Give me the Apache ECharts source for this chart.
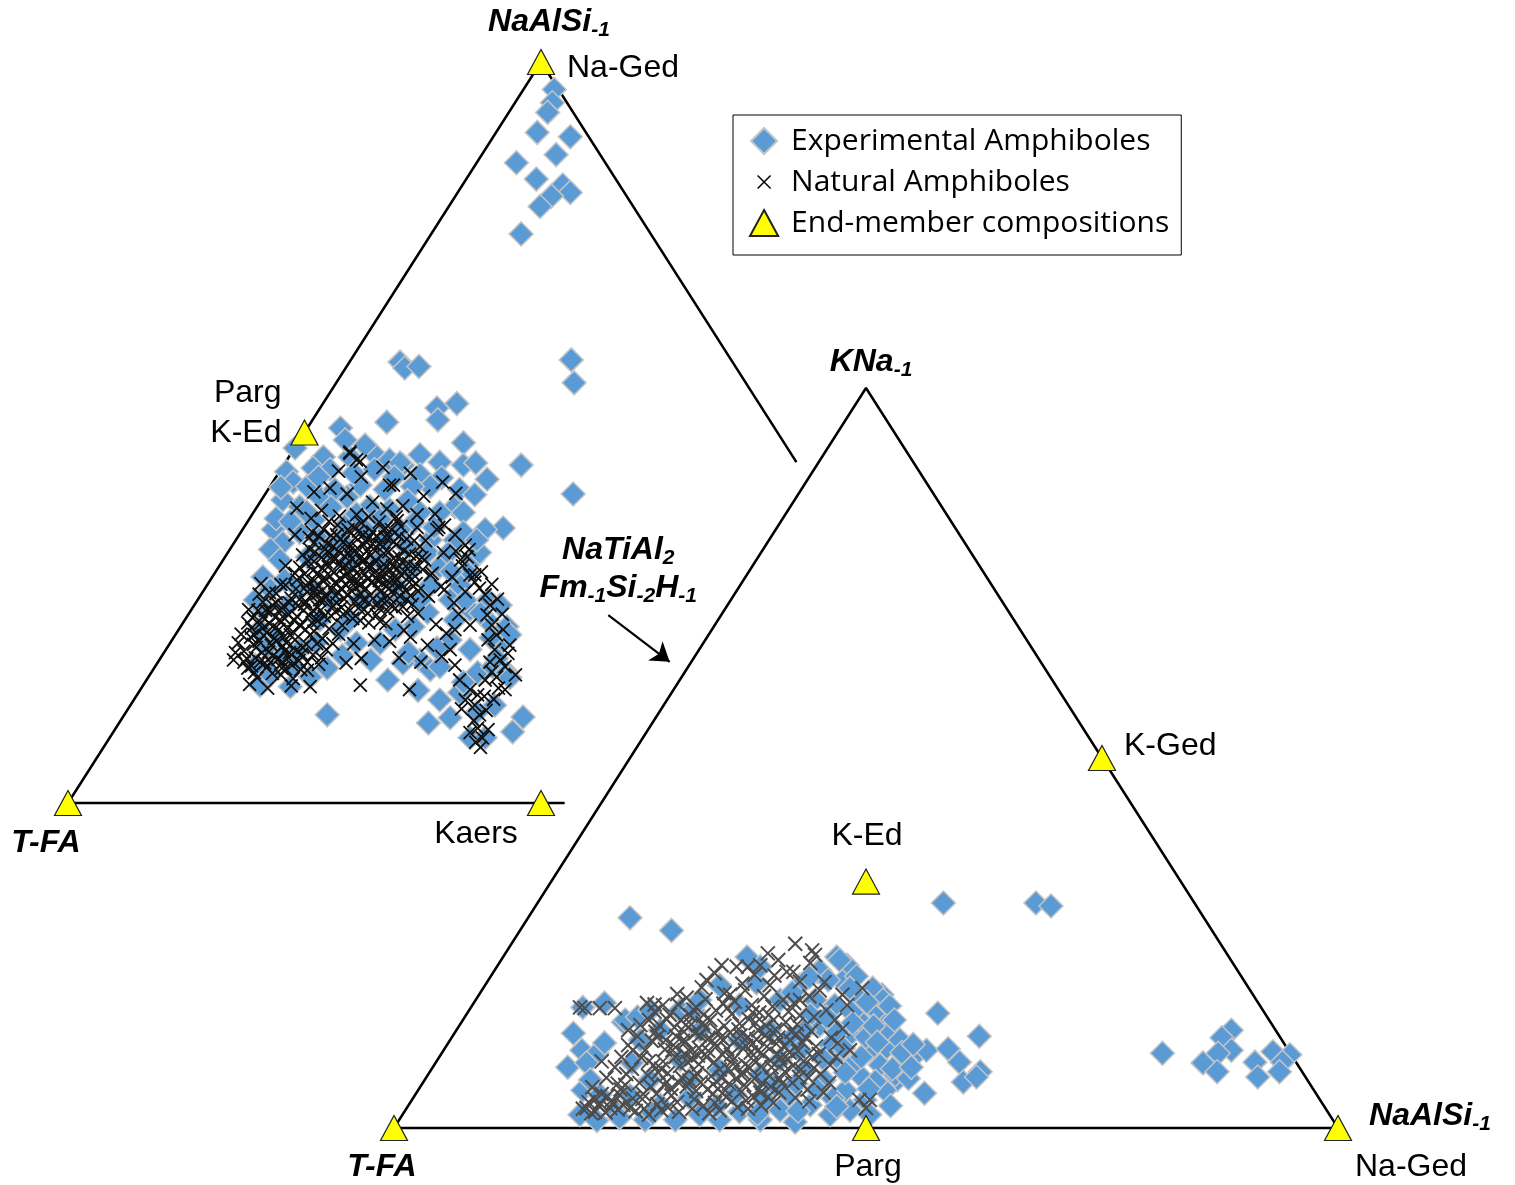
<!DOCTYPE html>
<html>
<head>
<meta charset="utf-8">
<title>Amphibole ternary diagrams</title>
<script src="https://cdn.jsdelivr.net/npm/echarts@6/dist/echarts.min.js"></script>
<style>
  html, body { margin: 0; padding: 0; background: #fff; }
  #chart { width: 1515px; height: 1185px; }
</style>
</head>
<body>
<div id="chart"></div>
<script>
// all positions are [x, y] in % of the triangle base (x) and height (y)

// left diagram: T-FA / NaAlSi-1 / (hidden third corner)
var leftVertices = [[0, 0], [50, 100]];
var leftVertexNames = ['T-FA', 'NaAlSi_{-1}'];
var leftEndMembers = [[0, 0], [50, 100], [25, 50], [50, 0]];
var leftEndMemberNames = ['', 'Na-Ged', 'Parg\nK-Ed', 'Kaers'];
// right side of the left triangle is covered by the second diagram
var leftFrame = [[0, 0], [50, 100], [77, 46]];
var leftBase = [[0, 0], [52.5, 0]];

// right diagram: T-FA / KNa-1 / NaAlSi-1
var rightVertices = [[0, 0], [50, 100], [100, 0]];
var rightVertexNames = ['T-FA', 'KNa_{-1}', 'NaAlSi_{-1}'];
var rightEndMembers = [[0, 0], [50, 0], [100, 0], [75, 50], [50, 33.3]];
var rightEndMemberNames = ['', 'Parg', 'Na-Ged', 'K-Ged', 'K-Ed'];
var rightFrame = [[0, 0], [50, 100], [100, 0], [0, 0]];

// exchange vector arrow (in right diagram units)
var exchangeArrow = [[22.7, 69.3], [29.2, 63.0]];
var exchangeName = 'NaTiAl_{2}\nFm_{-1}Si_{-2}H_{-1}';

var leftExperimental = [
  [51.4,96.3],[51.2,94.5],[50.7,93.2],[49.6,90.5],[53.1,89.9],[51.6,87.5],[47.4,86.4],[49.5,84.2],[52.3,83.4],[53.1,82.4],[51.1,81.9],[49.9,80.5],[47.9,76.8],
  [53.2,59.8],[53.5,56.7],[47.9,45.6],[53.4,41.7],[35.1,59.5],[35.6,58.7],[37.1,58.9],[39.0,53.3],[41.1,53.9],[39.1,51.7],[33.7,51.4],[41.8,48.6],[41.8,45.6],[43.1,45.9],[44.3,43.7],[46.0,37.1],[28.8,50.6],
  [24.0,47.9],[27.0,46.7],[25.9,45.2],[29.8,46.7],[32.2,47.3],[34.0,46.3],[35.4,45.6],[37.2,47.0],[39.3,46.0],[29.3,49.0],[31.4,48.3],[27.7,45.0],[32.4,45.0],[37.2,44.3],
  [23.1,44.7],[23.8,43.3],[25.3,42.7],[22.7,40.9],[24.5,40.0],[26.6,41.3],[29.5,41.3],[31.9,40.0],[34.0,39.6],[35.1,45.9],[39.5,43.9],[38.3,42.7],[36.4,42.7],[40.9,40.0],[41.8,39.2],[39.3,39.2],[37.2,39.2],[36.5,37.8],[28.2,42.3],[30.9,42.9],[33.5,42.3],[41.4,42.3],[43.0,41.6],
  [21.7,36.9],[22.7,35.1],[24.5,36.5],[26.3,35.9],[21.4,34.2],[22.4,32.8],[25.3,33.2],[27.4,34.2],[29.3,37.5],[31.4,36.9],[33.5,35.5],[35.1,36.9],[38.3,35.5],[42.8,32.8],[43.5,33.8],[42.2,31.1],[39.3,31.9],[38.0,33.8],[35.8,34.6],[40.9,35.5],[44.1,36.9],[29.8,32.8],[33.0,32.8],
  [20.6,30.5],[21.4,28.8],[23.1,26.5],[20.6,26.1],[44.4,27.4],[46.4,23.8],[45.7,21.7],[44.3,24.7],[38.0,25.7],[36.5,23.8],[35.1,27.8],[40.4,27.4],[42.5,26.1],[20.3,23.4],[24.5,28.8],[26.6,24.7],[33.0,27.4],[38.3,29.4],[41.4,29.4],[45.7,26.7],[46.7,22.7],[19.8,27.4],
  [40.4,22.0],[37.2,19.3],[38.3,18.0],[39.3,18.4],[43.3,17.6],[41.4,14.9],[44.9,18.4],[46.4,17.6],[46.7,16.9],[30.5,21.6],[33.0,21.6],[35.4,18.9],[27.4,18.2],[25.6,17.0],[20.3,15.9],[23.5,15.7],[19.8,18.6],[22.4,20.0],[28.8,23.4],[34.6,23.4],[42.5,20.7],[33.8,16.6],[21.4,17.3],
  [27.4,11.9],[38.1,10.8],[40.4,11.5],[42.5,8.8],[44.1,8.8],[47.0,9.6],[48.1,11.6],[43.2,12.2],[45.1,13.2],[39.3,13.9],
  [26.0,38.2],[28.8,35.5],[30.9,27.4],[27.7,27.4],[24.5,20.7],[37.2,27.4],[40.9,24.7],[36.1,31.5],[34.6,29.4],[22.9,30.1],[29.8,24.7],[26.0,28.8],
  [22.0,38.4],[23.5,38.0],[25.2,39.3],[27.8,39.9],[30.5,39.0],[33.0,38.3],[35.9,40.8],[38.7,37.2],[40.2,33.7],[41.8,36.5],[43.2,35.5],[42.0,27.4],[43.6,25.6],[44.7,22.3],[39.0,20.9],
  [36.0,20.3],[32.0,19.3],[29.0,19.9],[26.2,21.6],[22.0,22.3],[21.0,21.0],[23.8,18.3],[26.5,44.0],[30.2,44.5],[34.5,44.0],[22.5,42.6],[40.5,31.2],[45.3,19.5],[41.8,16.3],[37.0,15.2]
];

var leftNatural = [
  // main dense core
  [24.2,30.1],[24.8,33.5],[25.1,27.2],[25.5,35.8],[25.9,31.4],[26.2,29.0],[26.4,24.6],[26.8,33.1],[27.0,36.9],[27.3,27.8],[27.5,31.9],[27.8,25.3],[28.0,34.6],[28.2,29.7],[28.5,37.5],[28.7,32.3],[28.9,26.4],[29.1,35.2],[29.3,30.6],[29.5,28.1],
  [29.6,33.8],[29.9,36.4],[30.1,24.9],[30.2,31.7],[30.4,27.2],[30.6,34.4],[30.8,29.4],[31.0,37.8],[31.1,32.6],[31.3,26.1],[31.5,35.3],[31.7,30.2],[31.9,28.0],[32.0,33.4],[32.2,36.6],[32.4,31.1],[32.6,25.4],[32.8,29.1],[33.0,34.9],[33.2,27.3],
  [33.4,32.2],[33.6,37.1],[33.8,30.0],[34.0,35.8],[34.2,28.5],[34.4,33.0],[34.6,26.3],[34.8,31.6],[35.0,36.0],[35.3,29.5],[35.5,34.1],[35.8,27.4],[36.0,32.3],[36.3,30.1],[36.6,35.4],[37.0,28.6],[25.3,28.5],[26.0,32.6],[27.1,30.4],[28.4,27.0],
  [29.7,31.2],[30.9,33.1],[32.1,29.8],[33.3,31.3],[34.5,30.4],[28.8,35.6],[31.6,34.0],[30.0,28.6],[27.9,32.8],[33.9,33.9],[26.7,26.0],[29.0,24.0],[31.8,24.3],[35.9,25.2],[37.5,31.5],[24.0,36.2],[25.7,38.4],[30.5,38.9],[34.7,38.6],[36.9,37.2],
  [25.0,30.9],[25.6,34.2],[26.3,28.2],[26.9,31.7],[27.4,35.0],[27.9,28.9],[28.3,33.0],[28.8,30.3],[29.2,27.5],[29.6,36.9],[30.0,33.0],[30.3,30.0],[30.7,26.3],[31.2,36.2],[31.5,28.9],[31.9,32.1],[32.3,34.3],[32.7,27.0],[33.1,30.6],[33.5,35.9],
  [33.9,28.9],[34.3,32.0],[34.7,34.9],[35.1,27.9],[35.6,31.2],[36.1,33.6],[36.5,29.3],[27.2,34.3],[28.1,31.1],[29.4,29.4],[30.6,32.1],[31.4,30.9],[32.5,32.7],[33.7,29.3],[29.9,34.7],[31.2,27.4],[28.6,28.4],[26.5,36.0],[27.6,38.0],[32.9,37.9],
  [35.2,37.3],[26.0,30.0],[34.1,26.7],[30.4,35.8],[28.3,25.8],
  [24.5,31.8],[25.2,29.3],[25.8,36.6],[26.1,33.9],[26.6,27.4],[27.0,29.9],[27.6,33.7],[28.0,26.6],[28.4,36.2],[28.9,29.0],[29.3,33.2],[29.8,26.0],[30.2,37.2],[30.5,31.0],[30.9,28.3],[31.3,34.8],[31.7,25.6],[32.1,31.9],[32.6,36.0],[33.0,28.5],
  [33.4,33.7],[33.8,25.9],[34.2,36.9],[34.6,29.8],[35.0,33.2],[35.4,26.5],[35.8,35.6],[36.2,28.0],[36.7,31.9],[37.2,34.6],[26.4,31.0],[27.7,30.6],[29.0,31.7],[30.2,29.4],[31.6,31.9],[32.9,30.0],[34.1,31.4],[35.2,30.8],[29.5,34.6],[31.9,35.9],
  [33.4,36.9],[28.7,38.7],[27.1,25.2],[30.9,24.6],[33.6,24.2],[36.4,26.8],
  [24.9,26.0],[25.4,32.6],[26.0,35.1],[26.9,28.7],[27.3,32.5],[27.8,36.1],[28.3,28.0],[28.6,34.0],[29.1,25.5],[29.4,32.0],[29.9,30.2],[30.3,34.0],[30.7,36.7],[31.0,29.5],[31.4,32.8],[31.8,27.0],[32.2,35.0],[32.5,30.3],[32.9,26.3],[33.3,34.6],
  [33.6,31.9],[34.0,27.6],[34.4,35.2],[34.9,29.1],[35.3,32.5],[35.7,28.7],[36.4,31.0],[36.8,33.3],
  // lower-left dense patch
  [18.6,20.5],[19.0,18.2],[19.3,22.4],[19.5,25.0],[19.8,19.6],[20.0,16.9],[20.2,21.8],[20.4,24.3],[20.6,27.1],[20.8,18.9],[21.0,23.0],[21.2,20.4],[21.4,25.8],[21.6,17.5],[21.8,22.2],[22.0,28.3],[22.2,19.4],[22.4,24.7],[22.6,21.1],[22.8,26.6],
  [23.0,18.1],[23.2,23.5],[23.4,20.3],[23.6,27.6],[23.8,16.8],[24.0,22.0],[24.2,25.2],[24.4,19.2],[24.6,23.9],[24.8,21.0],[25.0,26.8],[25.3,17.9],[25.6,22.7],[25.9,20.0],[26.2,24.8],[26.5,18.7],[19.4,23.6],[20.9,26.0],[21.7,19.9],[22.5,17.3],
  [23.3,25.5],[24.1,28.9],[17.5,19.3],[18.0,21.6],[19.2,16.0],[21.1,15.5],[23.6,15.8],[25.4,29.7],[26.9,27.5],[20.4,29.6],[17.7,20.3],[18.6,19.0],[19.4,18.5],
  [19.9,21.0],[20.7,22.6],[21.5,21.3],[22.3,23.4],[23.1,21.6],[23.9,24.6],[24.7,20.1],[25.5,25.3],[21.9,25.1],[22.7,19.0],[20.3,19.0],[24.3,26.6],[22.0,27.0],[19.0,24.3],[21.3,28.4],[23.7,18.6],[25.1,23.4],[26.3,21.5],[18.3,22.8],[20.1,26.0],
  [18.9,19.5],[19.6,21.4],[20.5,20.3],[21.3,24.2],[22.1,21.9],[22.9,24.9],[23.5,22.7],[24.5,24.0],[25.2,21.4],[25.9,26.0],[19.7,17.6],[20.6,23.6],[21.6,26.7],[22.6,18.2],[23.4,27.0],[24.6,18.0],[26.0,23.2],[26.8,19.6],[19.1,26.1],[21.0,18.3],
  [22.8,22.4],[24.1,20.6],[20.2,28.2],[23.0,29.4],[25.7,28.0],
  [21.9,23.6],[22.4,26.1],[23.3,19.6],[23.8,23.1],[24.5,27.5],[25.3,19.0],[25.8,24.3],[26.4,26.4],[20.6,25.1],[19.7,22.7],[21.4,19.0],[22.9,20.5],[27.6,23.5],[28.0,21.5],[26.9,22.2],[24.0,31.0],[23.0,32.0],[22.5,29.5],
  // upper spread
  [29.8,47.2],[30.9,46.1],[34.0,42.9],[27.7,42.5],[29.5,41.7],[32.2,40.6],[35.4,40.1],[37.6,41.4],[31.0,44.0],[33.3,45.3],[36.2,44.5],[38.8,39.0],[26.8,39.5],[28.6,44.8],[39.6,43.3],[41.0,41.8],[39.2,37.2],[37.8,35.4],[36.9,38.9],[34.8,38.1],
  [24.2,39.8],[26.0,42.0],[31.8,38.6],[33.7,39.7],[29.8,47.4],[30.5,46.3],[34.4,42.9],
  // middle right
  [37.4,33.1],[38.5,31.0],[39.7,33.8],[40.6,30.5],[41.7,32.0],[42.4,34.2],[38.1,27.9],[39.4,29.2],[40.8,27.0],[37.0,25.6],[38.9,24.1],[36.2,22.4],[38.0,21.3],[39.5,19.8],[37.3,19.0],[40.0,22.9],[41.3,25.5],[42.0,28.5],[43.0,30.8],[36.8,29.6],
  [35.5,23.3],[34.0,21.8],[33.0,24.5],[32.4,22.0],[35.0,19.6],[30.2,21.5],[28.6,22.8],[27.3,20.7],[31.0,19.5],[29.4,18.9],
  // right arc
  [39.0,36.9],[39.8,37.5],[40.9,36.2],[42.0,34.8],[41.5,32.8],[42.5,30.8],[43.0,29.8],[43.5,29.0],[44.1,28.1],[44.6,26.7],[44.3,25.4],[44.8,24.0],[45.3,22.7],[44.4,22.0],[45.1,20.7],[45.7,19.3],[46.2,18.4],[44.8,17.7],[44.1,16.6],[45.5,15.5],
  [46.2,15.3],[43.3,14.6],[42.5,15.3],[43.0,13.2],[43.5,11.9],[43.3,10.1],[43.8,8.8],[43.1,8.2],[42.0,13.9],[41.4,16.6],[40.9,18.6],[40.4,20.7],[40.9,23.4],[46.7,21.3],[47.3,17.3],[42.5,24.0],[37.7,32.8],[38.3,30.8],[39.8,28.8],
  [41.0,34.0],[42.2,33.2],[43.7,31.2],[44.8,29.5],[45.4,27.5],[45.9,25.5],[46.0,23.4],[46.5,20.2],[44.6,19.0],[45.3,17.0],[44.0,14.4],[44.2,12.5],[42.9,11.1],[44.4,9.9],[42.5,9.5],[43.6,7.5],[41.6,12.7],[45.0,14.0],
  // stragglers
  [36.1,15.3],[30.9,15.9],[25.6,15.7]
];

var rightExperimental = [
  [25.0,28.4],[29.4,26.7],[58.2,30.4],[68.0,30.4],[69.6,30.0],[57.6,15.5],[62.0,12.4],[81.4,10.1],[88.7,13.2],[87.7,12.2],[88.7,10.5],[87.3,10.1],[85.7,8.8],[87.2,7.6],[91.2,8.9],[91.5,6.9],[93.1,10.3],[94.9,9.9],[94.1,8.9],[93.8,7.6],
  [55.4,10.1],[56.4,10.5],[58.7,10.7],[59.9,8.9],[60.3,6.2],[62.1,7.6],[61.7,6.9],[56.2,4.7],
  [20.0,16.3],[22.3,16.9],[24.3,14.3],[19.0,12.8],[19.9,10.5],[21.5,10.1],[22.3,11.5],[18.4,8.2],[20.0,5.1],[20.4,8.8],[24.5,14.6],[25.8,15.0],[25.2,8.8],[20.8,6.5],[21.8,4.5],[23.4,2.4],[19.7,1.8],[26.1,11.9],[27.1,6.5],
  [37.4,23.1],[38.4,19.6],[38.8,21.8],[30.3,15.9],[31.7,15.9],[34.5,19.3],[32.4,17.3],
  [46.9,23.1],[48.0,22.0],[44.9,21.1],[47.2,22.7],[45.1,21.3],[51.7,18.0],[50.6,16.3],[51.8,15.5],[51.1,15.9],[52.2,10.9],[52.5,13.2],[53.3,6.5],[49.3,17.7],[50.7,18.9],[51.8,17.3],[49.3,14.6],[48.3,12.6],[50.4,10.5],[51.5,8.5],[49.3,7.2],
  [47.2,9.2],[46.2,11.2],[45.1,13.9],[46.7,16.6],[44.6,17.3],[43.0,19.3],[44.1,15.3],[47.8,5.1],[49.9,3.8],[52.0,5.1],[53.1,7.2],[45.6,6.5],[43.5,7.8],[41.9,4.5],[44.1,3.1],[46.2,1.8],[48.3,2.4],[50.4,1.8],[53.6,11.9],[54.1,9.2],
  [23.9,1.4],[26.6,1.1],[28.2,3.1],[29.8,1.1],[32.4,1.8],[34.5,1.1],[36.6,2.2],[38.8,1.1],[40.9,2.4],[42.5,0.8],[39.3,3.8],[36.1,4.5],[31.3,4.1],
  [32.4,13.2],[36.6,11.9],[39.8,13.2],[40.9,9.2],[38.8,7.2],[34.5,7.8],[30.3,9.2],[28.2,13.2],[41.9,11.9],[43.0,10.5],[40.9,17.3],[36.6,16.6],[40.3,5.8],[43.5,13.2],[31.3,6.5],[27.1,15.9],
  [47.5,19.8],[49.0,20.5],[52.5,16.5],[50.0,12.3],[52.8,8.0],[48.6,8.6],[46.5,4.0],[44.8,5.2],[51.0,6.3],[53.8,10.2],[50.8,13.8],[47.0,13.0],[45.4,9.4],[42.8,2.3],[55.0,11.3],[54.5,6.7],[48.5,15.6],[38.5,1.9],[34.2,3.0],[27.4,2.0],
  [21.5,1.0],[25.0,4.4],
  [46.0,20.0],[48.3,18.9],[50.1,17.0],[53.0,14.6],[51.2,11.6],[49.5,9.6],[47.8,7.5],[46.9,2.9],[52.6,3.0],[54.8,8.2],[45.8,15.0],[48.6,14.2],[42.2,18.3],[44.0,20.4],[47.6,10.8],[50.3,5.3],[42.6,6.0]
];

var rightNatural = [
  // upper fringe
  [42.5,24.9],[44.3,24.0],[44.6,23.4],[39.6,23.6],[40.7,22.7],[34.7,22.0],[36.3,21.8],[37.5,21.8],[38.8,22.0],[33.1,20.0],[34.0,20.9],[41.6,21.1],[42.3,21.1],[44.1,22.3],[45.6,19.7],[49.6,18.9],[48.0,16.6],[47.5,18.0],[37.2,18.6],[39.8,19.3],
  [38.2,20.7],[35.6,18.0],[43.0,17.3],[45.1,18.6],[46.7,14.6],[48.3,10.5],[46.2,8.5],[49.3,3.8],[50.0,2.7],[50.4,3.8],
  // left fringe
  [19.7,16.3],[21.8,16.2],[23.4,16.2],[26.8,16.9],[28.5,16.6],[24.8,13.2],[23.4,8.2],[21.0,5.5],[20.4,2.7],[21.8,3.4],[23.2,3.4],[20.2,16.2],[27.6,15.7],[26.1,13.9],[25.3,10.5],[24.5,5.8],[23.9,4.5],[22.9,2.7],[25.0,2.7],[21.3,2.2],
  // dense core
  [26.2,9.5],[26.9,7.1],[27.3,11.8],[27.8,4.6],[28.1,13.9],[28.5,9.0],[28.9,6.2],[29.2,15.3],[29.6,11.2],[30.0,3.5],[30.3,8.4],[30.7,13.0],[31.0,5.6],[31.4,10.3],[31.7,16.0],[32.1,7.4],[32.4,12.5],[32.8,3.0],[33.1,9.6],[33.5,14.6],
  [33.8,5.9],[34.2,11.1],[34.5,7.9],[34.9,16.8],[35.2,4.2],[35.6,12.9],[35.9,9.2],[36.3,6.5],[36.6,14.1],[37.0,10.7],[37.3,3.7],[37.7,8.1],[38.0,15.6],[38.4,12.0],[38.7,5.3],[39.1,9.9],[39.4,13.8],[39.8,7.0],[40.1,16.4],[40.5,11.4],
  [40.8,4.8],[41.2,8.7],[41.5,14.3],[41.9,10.2],[42.2,6.1],[42.6,12.7],[43.0,15.2],[43.4,9.0],[43.8,5.2],[44.2,13.1],[44.7,11.0],[45.2,7.3],[45.8,15.9],[46.3,12.2],[27.5,8.5],[28.7,10.6],[29.9,12.4],[31.1,8.9],[32.3,10.8],[33.6,7.0],
  [34.8,9.9],[36.0,11.6],[37.2,8.6],[38.5,10.4],[39.7,12.1],[40.9,9.5],[42.0,11.8],[30.5,6.8],[32.0,5.0],[33.2,12.0],[35.0,13.8],[36.8,4.9],[38.2,6.7],[39.9,5.6],[41.4,7.6],[43.1,7.9],[29.4,4.4],[31.8,3.9],[34.0,3.4],[36.4,2.8],
  [38.9,3.0],[25.8,12.4],[27.0,14.6],[30.1,16.7],[33.0,17.4],[36.1,17.1],[39.2,17.8],[42.4,16.9],[24.6,7.3],[25.3,4.0],[26.5,2.6],[28.3,2.4],[44.0,3.6],[45.5,4.8],[46.8,9.6],[47.5,13.4],[35.4,8.0],[37.5,12.3],[32.7,14.2],[30.9,11.7],
  [28.0,7.5],[40.2,14.6],[42.8,10.4],[44.5,8.1],[34.3,5.3],[31.5,14.0],
  [26.6,10.5],[27.2,5.6],[27.7,13.0],[28.3,8.0],[28.8,11.9],[29.3,5.3],[29.8,9.6],[30.4,14.6],[30.8,10.0],[31.3,6.4],[31.9,12.8],[32.3,8.6],[32.8,15.3],[33.3,10.4],[33.8,4.6],[34.3,13.1],[34.7,6.8],[35.3,10.7],[35.8,15.4],[36.2,8.3],
  [36.7,12.5],[37.1,5.8],[37.6,14.7],[38.1,9.1],[38.6,13.2],[39.0,6.1],[39.5,11.0],[40.0,8.2],[40.4,13.3],[40.9,6.6],[41.3,11.1],[41.8,15.7],[42.3,8.4],[42.7,14.0],[43.3,11.5],[43.9,6.8],[44.5,15.0],[45.0,10.0],[29.0,7.4],[30.6,11.8],
  [32.2,9.8],[33.7,11.8],[35.5,6.0],[37.3,11.1],[38.9,8.3],[40.6,10.0],[29.7,13.6],[31.4,15.2],[34.1,15.9],[37.9,16.6],[41.2,17.3],[27.9,3.2],[30.2,2.2],[33.4,2.0],[35.8,3.6],[38.1,4.2],[40.2,3.4],[42.5,4.1],[46.1,6.1],[47.0,11.5],
  [44.0,17.8],[30.0,18.1],[32.6,19.0],[36.9,19.5],[40.3,20.6],[43.0,19.8],[26.0,6.1],[25.2,8.0],[24.1,9.6],[22.5,6.8],[22.0,9.0],[27.6,16.7],[31.0,17.6],[35.0,18.2],[39.7,15.3],[34.9,11.9],[31.9,6.9],[36.7,7.3],[33.2,5.2],[38.0,11.4],
  [27.0,9.0],[27.9,12.3],[28.6,5.8],[29.5,10.5],[30.2,6.1],[30.9,13.9],[31.6,9.4],[32.5,6.2],[33.0,13.5],[33.9,8.9],[34.6,12.2],[35.1,5.1],[35.7,9.9],[36.5,13.3],[37.0,7.4],[37.8,10.2],[38.3,14.2],[38.8,4.8],[39.3,12.5],[39.9,9.1],
  [40.7,12.2],[41.1,6.0],[41.7,9.3],[42.1,13.0],[42.9,6.9],[43.6,12.2],[44.3,9.6],[28.9,14.7],[32.0,16.3],[35.3,16.2],[38.7,15.6],[26.4,4.6],[29.0,2.8],[31.6,2.6],[34.5,2.4],[37.5,2.6],[39.6,4.2],[24.8,11.2],[23.7,6.0],[22.6,4.3],
  [21.2,4.0],[20.6,3.5],
  // bottom-left strip
  [20.0,2.6],[20.9,2.0],[21.7,3.0],[22.4,2.1],[23.0,3.7],[23.7,2.5],[24.3,3.1],[25.6,2.3],[26.3,3.9],[27.0,1.8],[22.0,4.6],[24.0,5.2]
];

var chart = echarts.init(document.getElementById('chart'));

var FONT = 'Liberation Sans';
var crossSymbol = 'path://M0,0L10,10M10,0L0,10';
// legend icons padded so they keep their size inside the icon box
var legendDiamond = 'path://M13,0L26,13L13,26L0,13Z';
var legendCross = 'path://M0,0M26,26M6.5,6.5L19.5,19.5M19.5,6.5L6.5,19.5';
var legendTriangle = 'path://M13,1L26,25L0,25Z';

// 'NaAlSi_{-1}' -> rich text with a lowered small part
function richName(s) {
  return s.split('\n').map(function (line) {
    return '{m|' + line.replace(/_\{([^}]*)\}/g, '}{sub|$1}{m|') + '}';
  }).join('\n');
}

var richStyles = {
  m: { fontFamily: FONT, fontSize: 32, fontWeight: 'bold', fontStyle: 'italic', color: '#000', lineHeight: 38 },
  sub: { fontFamily: FONT, fontSize: 21, fontWeight: 'bold', fontStyle: 'italic', color: '#000', lineHeight: 21, verticalAlign: 'bottom' }
};

var plainLabel = {
  show: true, position: 'inside', color: '#000', fontFamily: FONT, fontSize: 32,
  lineHeight: 40, verticalAlign: 'middle', textBorderWidth: 0
};

// label placement around each marker, in pixels
var leftEndLabelPos = [null, { align: 'left', offset: [26, 6] }, { align: 'right', offset: [-23, -19] }, { align: 'center', offset: [-65, 31] }];
var rightEndLabelPos = [null, { align: 'center', offset: [2, 39] }, { align: 'center', offset: [73, 39] }, { align: 'left', offset: [22, -12] }, { align: 'center', offset: [1, -45] }];
var leftVertexLabelPos = [[-22, 40], [8, -40]];
var rightVertexLabelPos = [[-12, 39], [5, -26], [92, -12]];

function frameSeries(data, gi) {
  return {
    type: 'line', xAxisIndex: gi, yAxisIndex: gi, data: data, symbol: 'none',
    clip: false, silent: true, z: 1, lineStyle: { color: '#000', width: 2.5 }
  };
}

function experimentalSeries(data, gi) {
  return {
    name: 'Experimental Amphiboles', type: 'scatter', xAxisIndex: gi, yAxisIndex: gi,
    data: data, symbol: 'diamond', symbolSize: 24, clip: false, silent: true, z: 2,
    itemStyle: { color: '#5B9BD5', borderColor: '#c4c4c4', borderWidth: 1.5, opacity: 1 }
  };
}

function naturalSeries(data, gi, color, size, width) {
  return {
    name: 'Natural Amphiboles', type: 'scatter', xAxisIndex: gi, yAxisIndex: gi,
    data: data, symbol: crossSymbol, symbolSize: size, clip: false, silent: true, z: 3,
    itemStyle: { color: 'rgba(0,0,0,0)', borderColor: color, borderWidth: width, opacity: 1 }
  };
}

function endMemberSeries(points, names, pos, gi) {
  return {
    name: 'End-member compositions', type: 'scatter', xAxisIndex: gi, yAxisIndex: gi,
    symbol: 'triangle', symbolSize: [27, 25], clip: false, silent: true, z: 4,
    itemStyle: { color: '#FFFF00', borderColor: '#222', borderWidth: 1.2, opacity: 1 },
    data: points.map(function (p, i) {
      var item = { value: p };
      if (names[i]) {
        var txt = names[i];
        item.label = Object.assign({}, plainLabel, pos[i], { formatter: function () { return txt; } });
      }
      return item;
    })
  };
}

function textSeries(points, names, offsets, gi) {
  return {
    type: 'scatter', xAxisIndex: gi, yAxisIndex: gi, symbolSize: 1, clip: false, silent: true, z: 5,
    itemStyle: { color: 'rgba(0,0,0,0)', opacity: 1 },
    data: points.map(function (p, i) {
      var txt = richName(names[i]);
      return {
        value: p,
        label: {
          show: true, position: 'inside', align: 'center', verticalAlign: 'middle',
          offset: offsets[i], rich: richStyles, textBorderWidth: 0,
          formatter: function () { return txt; }
        }
      };
    })
  };
}

function axis(gi) {
  return { type: 'value', gridIndex: gi, min: 0, max: 100, show: false };
}

var option = {
  backgroundColor: '#fff',
  animation: false,
  grid: [
    { left: 68, top: 62, width: 946, height: 741 },
    { left: 394, top: 388, width: 944, height: 740 }
  ],
  xAxis: [axis(0), axis(1)],
  yAxis: [axis(0), axis(1)],
  legend: {
    left: 733, top: 115, orient: 'vertical', selectedMode: false,
    padding: [11, 12, 17, 16], itemGap: 11, itemWidth: 44, itemHeight: 26,
    borderColor: '#000', borderWidth: 1, backgroundColor: '#fff',
    textStyle: { fontFamily: 'Open Sans', fontSize: 30, color: '#000', lineHeight: 30 },
    data: [
      { name: 'Experimental Amphiboles', icon: legendDiamond },
      { name: 'Natural Amphiboles', icon: legendCross, itemStyle: { color: 'rgba(0,0,0,0)', borderColor: '#000', borderWidth: 1.5 } },
      { name: 'End-member compositions', icon: legendTriangle }
    ]
  },
  series: [
    frameSeries(leftFrame, 0),
    frameSeries(leftBase, 0),
    frameSeries(rightFrame, 1),
    experimentalSeries(leftExperimental, 0),
    naturalSeries(leftNatural, 0, '#111', 13, 1.8),
    experimentalSeries(rightExperimental, 1),
    naturalSeries(rightNatural, 1, '#4d4d4d', 14, 2),
    endMemberSeries(leftEndMembers, leftEndMemberNames, leftEndLabelPos, 0),
    endMemberSeries(rightEndMembers, rightEndMemberNames, rightEndLabelPos, 1),
    textSeries(leftVertices, leftVertexNames, leftVertexLabelPos, 0),
    textSeries(rightVertices, rightVertexNames, rightVertexLabelPos, 1),
    textSeries([exchangeArrow[0]], [exchangeName], [[10, -46]], 1),
    {
      type: 'lines', coordinateSystem: 'cartesian2d', xAxisIndex: 1, yAxisIndex: 1,
      silent: true, z: 5, symbol: ['none', 'arrow'], symbolSize: 18,
      lineStyle: { color: '#000', width: 2.2, opacity: 1, curveness: 0 },
      data: [{ coords: exchangeArrow }]
    }
  ]
};

chart.setOption(option);
</script>
</body>
</html>
